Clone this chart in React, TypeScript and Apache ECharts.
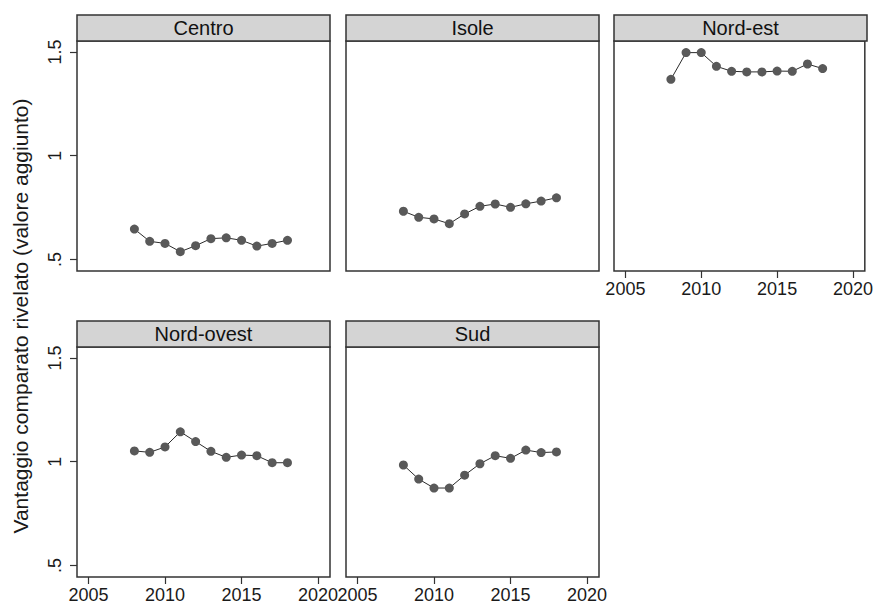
import React, { useEffect, useRef } from "react";
import * as echarts from "echarts";

// Revealed comparative advantage (value added) by Italian macro-region, 2008-2018
const years = [2008, 2009, 2010, 2011, 2012, 2013, 2014, 2015, 2016, 2017, 2018];
const centro = [0.646, 0.587, 0.577, 0.537, 0.566, 0.6, 0.604, 0.592, 0.564, 0.577, 0.592];
const isole = [0.732, 0.703, 0.695, 0.672, 0.719, 0.756, 0.767, 0.751, 0.768, 0.781, 0.797];
const nordEst = [1.368, 1.497, 1.497, 1.431, 1.407, 1.404, 1.404, 1.408, 1.407, 1.442, 1.42];
const nordOvest = [1.052, 1.045, 1.071, 1.144, 1.097, 1.05, 1.021, 1.032, 1.029, 0.995, 0.995];
const sud = [0.984, 0.916, 0.873, 0.873, 0.935, 0.99, 1.029, 1.016, 1.056, 1.044, 1.047];

const panelNames = ["Centro", "Isole", "Nord-est", "Nord-ovest", "Sud"];
const panelValues = [centro, isole, nordEst, nordOvest, sud];
const xTicks = [2005, 2010, 2015, 2020];
const yTicks = [0.5, 1, 1.5];
const yTitle = "Vantaggio comparato rivelato (valore aggiunto)";

const FONT = "'Liberation Sans', Arial, sans-serif";
const colLeft = [77, 346, 614];
const rowTop = [41, 347];
const PW = 253;
const PH = 230;
const HEAD = 26;
const EDGE = "#333333";

// which panels carry the year axis / value axis labels
const showX = [false, false, true, true, true];
const showY = [true, false, false, true, false];

export default function App() {
  const ref = useRef<HTMLDivElement>(null);

  useEffect(() => {
    document.body.style.margin = "0";
    if (!ref.current) return;
    const chart = echarts.init(ref.current, undefined, { renderer: "svg" });

    const grids: any[] = [];
    const xAxes: any[] = [];
    const yAxes: any[] = [];
    const series: any[] = [];
    const graphics: any[] = [];

    panelNames.forEach((name, i) => {
      const row = i < 3 ? 0 : 1;
      const col = i < 3 ? i : i - 3;
      const left = colLeft[col];
      const top = rowTop[row];
      grids.push({
        left,
        top,
        width: PW,
        height: PH,
        show: true,
        borderColor: EDGE,
        borderWidth: 1.5,
        backgroundColor: "#ffffff",
      });
      xAxes.push({
        type: "value",
        gridIndex: i,
        min: 2004.25,
        max: 2020.78,
        axisLine: { show: false },
        splitLine: { show: false },
        axisTick: {
          show: showX[i],
          customValues: xTicks,
          length: 7,
          lineStyle: { color: EDGE, width: 1.2 },
        },
        axisLabel: {
          show: showX[i],
          customValues: xTicks,
          fontSize: 18,
          fontFamily: FONT,
          color: "#1a1a1a",
          margin: 9,
          formatter: (v: number) => String(v),
        },
      });
      yAxes.push({
        type: "value",
        gridIndex: i,
        min: 0.444,
        max: 1.553,
        axisLine: { show: false },
        splitLine: { show: false },
        axisTick: {
          show: showY[i],
          customValues: yTicks,
          length: 7,
          lineStyle: { color: EDGE, width: 1.2 },
        },
        axisLabel: {
          show: showY[i],
          customValues: yTicks,
          rotate: 90,
          fontSize: 18,
          fontFamily: FONT,
          color: "#1a1a1a",
          margin: 13,
          formatter: (v: number) => (v === 0.5 ? ".5" : String(v)),
        },
      });
      series.push({
        type: "line",
        xAxisIndex: i,
        yAxisIndex: i,
        data: years.map((y, k) => [y, panelValues[i][k]]),
        symbol: "circle",
        symbolSize: 9,
        itemStyle: { color: "#595959" },
        lineStyle: { color: "#2b2b2b", width: 1 },
        emphasis: { disabled: true },
      });
      graphics.push({
        type: "rect",
        shape: { x: left, y: top - HEAD, width: PW, height: HEAD },
        style: { fill: "#d4d4d4", stroke: EDGE, lineWidth: 1.5 },
      });
      graphics.push({
        type: "text",
        x: left + PW / 2,
        y: top - HEAD / 2,
        style: {
          text: name,
          fontSize: 20,
          fontFamily: FONT,
          fill: "#111",
          align: "center",
          verticalAlign: "middle",
        },
      });
    });

    graphics.push({
      type: "text",
      x: 20,
      y: 316,
      rotation: Math.PI / 2,
      style: {
        text: yTitle,
        fontSize: 21,
        fontFamily: FONT,
        fill: "#1a1a1a",
        align: "center",
        verticalAlign: "middle",
      },
    });

    chart.setOption({
      animation: false,
      backgroundColor: "#ffffff",
      grid: grids,
      xAxis: xAxes,
      yAxis: yAxes,
      series,
      graphic: graphics,
    });

    return () => chart.dispose();
  }, []);

  return <div ref={ref} style={{ width: 876, height: 608 }} />;
}
